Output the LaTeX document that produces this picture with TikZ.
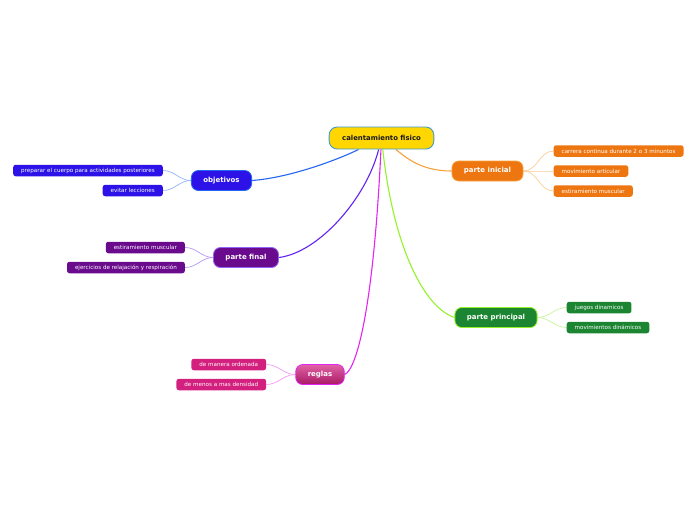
\documentclass[tikz,border=0pt]{standalone}
\usepackage{fontspec}
\setmainfont{DejaVu Sans}
\usepackage{xcolor}
\usepackage{tikz}
\usetikzlibrary{positioning,backgrounds}
\definecolor{rootFill}{HTML}{FFD600}
\definecolor{rootLine}{HTML}{3E9BD0}
\definecolor{iniFill}{HTML}{EE7611}
\definecolor{iniLink}{HTML}{F6A23C}
\definecolor{iniTwig}{HTML}{FBCD98}
\definecolor{objFill}{HTML}{2C12E6}
\definecolor{objLink}{HTML}{2466F2}
\definecolor{objTwig}{HTML}{93B4F8}
\definecolor{finFill}{HTML}{6A0A8C}
\definecolor{finLink}{HTML}{6222F2}
\definecolor{finTwig}{HTML}{B496F4}
\definecolor{priFill}{HTML}{1B8532}
\definecolor{priLink}{HTML}{94F22A}
\definecolor{priTwig}{HTML}{C6F59A}
\definecolor{regFill}{HTML}{D31F7E}
\definecolor{regLink}{HTML}{E424F2}
\definecolor{regTwig}{HTML}{F39AF3}
\tikzset{
    mapRoot/.style={
        draw=rootLine,
        line width=0.9pt,
        fill=rootFill,
        rounded corners=8pt,
        minimum height=22pt,
        inner xsep=13pt,
        inner ysep=0pt,
        text=black!90,
        font=\fontsize{6.9}{8}\selectfont\bfseries
    },
    mapMain/.style={
        line width=0.8pt,
        rounded corners=7pt,
        minimum height=20pt,
        inner xsep=12pt,
        inner ysep=0pt,
        text=white,
        font=\fontsize{7}{8}\selectfont\bfseries
    },
    mapLeaf/.style={
        rounded corners=2.5pt,
        minimum height=11.5pt,
        inner xsep=8pt,
        inner ysep=0pt,
        text=white,
        font=\fontsize{5.6}{6}\selectfont
    },
    mapLink/.style={
        line width=1.1pt
    },
    mapTwig/.style={
        line width=0.7pt
    }
}
\begin{document}
\begin{tikzpicture}[x=1pt,y=-1pt]
    \useasboundingbox (0,0) rectangle (696,520);
    \node[mapRoot] (root) at (381.5,138) {calentamiento fisico};

    \node[mapMain,fill=iniFill,draw=iniLink] (inicial) at (487.5,171) {parte inicial};
    \node[mapLeaf,fill=iniFill,right=30pt of inicial,yshift=20pt] (ini1) {carrera continua durante 2 o 3 minuntos};
    \node[mapLeaf,fill=iniFill,right=30pt of inicial] (ini2) {movimiento articular};
    \node[mapLeaf,fill=iniFill,right=30pt of inicial,yshift=-20pt] (ini3) {estiramiento muscular};

    \node[mapMain,fill=objFill,draw=objLink] (objetivos) at (221.5,180.5) {objetivos};
    \node[mapLeaf,fill=objFill,left=28pt of objetivos,yshift=10pt] (obj1) {preparar el cuerpo para actividades posteriores};
    \node[mapLeaf,fill=objFill,left=28pt of objetivos,yshift=-10pt] (obj2) {evitar lecciones};

    \node[mapMain,fill=finFill,draw=finLink!70] (final) at (246,257.5) {parte final};
    \node[mapLeaf,fill=finFill,left=28pt of final,yshift=10pt] (fin1) {estiramiento muscular};
    \node[mapLeaf,fill=finFill,left=28pt of final,yshift=-10pt] (fin2) {ejercicios de relajación y respiración};

    \node[mapMain,fill=priFill,draw=priLink] (principal) at (496,317.5) {parte principal};
    \node[mapLeaf,fill=priFill,right=29pt of principal,yshift=10pt] (pri1) {juegos dinamicos};
    \node[mapLeaf,fill=priFill,right=29pt of principal,yshift=-10pt] (pri2) {movimientos dinámicos};

    \node[mapMain,top color=regFill!70!white,bottom color=regFill!80!black,draw=regLink] (reglas) at (320,374.5) {reglas};
    \node[mapLeaf,fill=regFill,left=29pt of reglas,yshift=10pt] (reg1) {de manera ordenada};
    \node[mapLeaf,fill=regFill,left=29pt of reglas,yshift=-10pt] (reg2) {de menos a mas densidad};

    \begin{scope}[on background layer]
        % branches from the centre
        \draw[mapLink,draw=objLink] (root) .. controls +(-40,20) and +(40,-3) .. (objetivos.east);
        \draw[mapLink,draw=finLink] (root) .. controls +(-15,60) and +(40,-5) .. (final.east);
        \draw[mapLink,draw=regLink] (root) .. controls +(-8,170) and +(12,-5) .. (reglas.east);
        \draw[mapLink,draw=priLink] (root) .. controls +(12,110) and +(-30,-10) .. (principal.west);
        \draw[mapLink,draw=iniLink] (root) .. controls +(25,20) and +(-30,0) .. (inicial.west);

        % leaves
        \draw[mapTwig,draw=iniTwig] (inicial.east) to[out=0,in=180] (ini1.west);
        \draw[mapTwig,draw=iniTwig] (inicial.east) to[out=0,in=180] (ini2.west);
        \draw[mapTwig,draw=iniTwig] (inicial.east) to[out=0,in=180] (ini3.west);
        \draw[mapTwig,draw=objTwig] (objetivos.west) to[out=180,in=0] (obj1.east);
        \draw[mapTwig,draw=objTwig] (objetivos.west) to[out=180,in=0] (obj2.east);
        \draw[mapTwig,draw=finTwig] (final.west) to[out=180,in=0] (fin1.east);
        \draw[mapTwig,draw=finTwig] (final.west) to[out=180,in=0] (fin2.east);
        \draw[mapTwig,draw=priTwig] (principal.east) to[out=0,in=180] (pri1.west);
        \draw[mapTwig,draw=priTwig] (principal.east) to[out=0,in=180] (pri2.west);
        \draw[mapTwig,draw=regTwig] (reglas.west) to[out=180,in=0] (reg1.east);
        \draw[mapTwig,draw=regTwig] (reglas.west) to[out=180,in=0] (reg2.east);
    \end{scope}
\end{tikzpicture}
\end{document}
